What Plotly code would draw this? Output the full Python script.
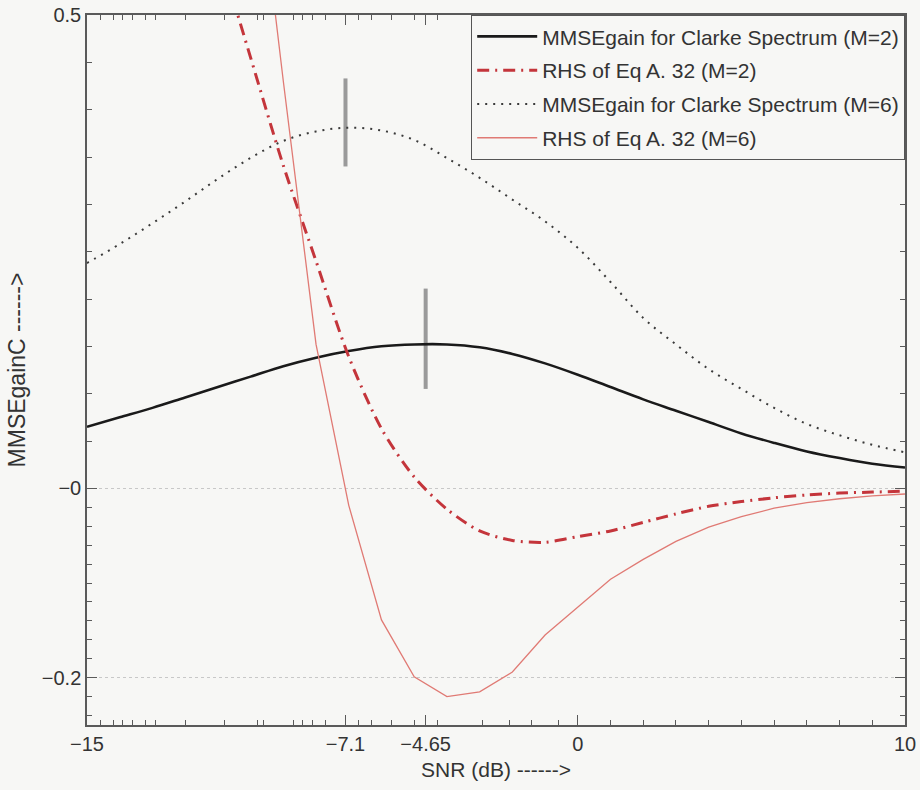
import plotly.graph_objects as go

# SNR grid (dB) for the smooth MMSE gain curves
snr = [-15, -14, -13, -12, -11, -10, -9, -8, -7, -6, -5, -4, -3, -2, -1,
       0, 1, 2, 3, 4, 5, 6, 7, 8, 9, 10]

# MMSEgain for Clarke spectrum, M=2
gain_m2 = [0.065, 0.075, 0.085, 0.096, 0.107, 0.118, 0.129, 0.138, 0.145, 0.150,
           0.152, 0.152, 0.149, 0.142, 0.132, 0.120, 0.107, 0.094, 0.082, 0.070,
           0.058, 0.048, 0.039, 0.032, 0.026, 0.022]

# MMSEgain for Clarke spectrum, M=6
gain_m6 = [0.238, 0.258, 0.280, 0.303, 0.327, 0.349, 0.367, 0.377, 0.381, 0.378,
           0.368, 0.349, 0.328, 0.305, 0.282, 0.254, 0.218, 0.180, 0.152, 0.126,
           0.105, 0.085, 0.068, 0.056, 0.046, 0.038]

# RHS of Eq A.32 (sampled every 1 dB)
snr_rhs = [-11, -10, -9, -8, -7, -6, -5, -4, -3, -2, -1,
           0, 1, 2, 3, 4, 5, 6, 7, 8, 9, 10]
rhs_m2 = [0.570, 0.455, 0.341, 0.240, 0.139, 0.063, 0.012, -0.022, -0.045, -0.055, -0.057,
          -0.051, -0.045, -0.036, -0.027, -0.019, -0.014, -0.010, -0.007, -0.005, -0.004, -0.003]
rhs_m6 = [1.00, 0.720, 0.430, 0.152, -0.018, -0.139, -0.199, -0.220, -0.215, -0.194, -0.155,
          -0.125, -0.096, -0.075, -0.056, -0.041, -0.030, -0.021, -0.015, -0.011, -0.008, -0.006]

# SNR markers at the gain peaks
peak_snr = [-7.1, -4.65]
peak_lo = [0.340, 0.105]
peak_hi = [0.433, 0.211]

# axis ticks
x_ticks = [-15, -7.1, -4.65, 0, 10]
x_ticklabels = ["\u221215", "\u22127.1", "\u22124.65", "0", "10"]
y_ticks = [-0.2, 0, 0.5]
y_ticklabels = ["\u22120.2", "\u22120", "0.5"]
x_minor = [-14.6, -14.2, -13.9, -13.6, -13.2, -12.9, -12, -10.8, -9.8, -9.6, -8.7,
           -8.4, -8.1, -7.7, -6.7, -6.3, -5.7, -5, -4.3, -2.9, -2.1, -1.4, -0.6,
           1, 2, 3, 4, 5, 6, 7, 8, 9]
y_minor = [0.05, 0.1, 0.15, 0.2, 0.25, 0.3, 0.35, 0.4, 0.45,
           -0.02, -0.04, -0.06, -0.08, -0.1, -0.12, -0.14, -0.16, -0.18, -0.22, -0.24]

X_RANGE = [-15, 10]
Y_RANGE = [-0.25, 0.5]

BG = "#f7f7f5"
FONT = "Liberation Sans, Arial, sans-serif"
AXIS = "#5a5a5a"

fig = go.Figure()

# gray peak markers
for xs, lo, hi in zip(peak_snr, peak_lo, peak_hi):
    fig.add_trace(go.Scatter(x=[xs, xs], y=[lo, hi], mode="lines",
                             line=dict(color="#9a9a9a", width=4),
                             showlegend=False, hoverinfo="skip"))

fig.add_trace(go.Scatter(x=snr, y=gain_m2, mode="lines", name="MMSEgain for Clarke Spectrum (M=2)",
                         line=dict(color="#1a1a1a", width=2.6, shape="spline"), legendgroup="a"))
fig.add_trace(go.Scatter(x=snr_rhs, y=rhs_m2, mode="lines", name="RHS of Eq A. 32 (M=2)",
                         line=dict(color="#c4353b", width=3, dash="12px,6px,2px,6px",
                                   shape="spline", smoothing=0.8),
                         legendgroup="b"))
fig.add_trace(go.Scatter(x=snr, y=gain_m6, mode="lines", name="MMSEgain for Clarke Spectrum (M=6)",
                         line=dict(color="#3a3a3a", width=2, dash="2px,6px", shape="spline"),
                         legendgroup="c"))
fig.add_trace(go.Scatter(x=snr_rhs, y=rhs_m6, mode="lines", name="RHS of Eq A. 32 (M=6)",
                         line=dict(color="#e07a74", width=1.3), legendgroup="d"))

# empty trace carrying the mirrored top/right tick axes
fig.add_trace(go.Scatter(x=[], y=[], xaxis="x2", yaxis="y2", showlegend=False,
                         hoverinfo="skip"))

fig.update_layout(
    width=920, height=790,
    margin=dict(l=87, r=15, t=15, b=65),
    paper_bgcolor=BG, plot_bgcolor=BG,
    font=dict(family=FONT, size=20, color="#333333"),
    showlegend=True,
    legend=dict(x=1, y=1, xanchor="right", yanchor="top",
                bgcolor=BG, bordercolor="#555555", borderwidth=1.2,
                font=dict(size=21, color="#333333"), itemwidth=60,
                tracegroupgap=3.5, traceorder="grouped"),
)

common_ticks = dict(ticks="inside", ticklen=10, tickwidth=1.2, tickcolor=AXIS,
                    showline=True, linecolor=AXIS, linewidth=1.5,
                    zeroline=False, automargin=False)

fig.update_layout(
    xaxis=dict(
        range=X_RANGE, tickmode="array", tickvals=x_ticks, ticktext=x_ticklabels,
        showgrid=False, tickfont=dict(size=20),
        minor=dict(tickmode="array", tickvals=x_minor, ticks="inside", ticklen=5,
                   tickcolor=AXIS, showgrid=False),
        title=dict(text="SNR (dB) ------>", font=dict(size=21), standoff=9),
        **common_ticks),
    yaxis=dict(
        range=Y_RANGE, tickmode="array", tickvals=y_ticks, ticktext=y_ticklabels,
        showgrid=True, gridcolor="#c8c8c8", griddash="dot", gridwidth=1,
        tickfont=dict(size=20),
        minor=dict(tickmode="array", tickvals=y_minor, ticks="inside", ticklen=5,
                   tickcolor=AXIS, showgrid=False),
        title=dict(text="MMSEgainC ------>", font=dict(size=23), standoff=10),
        **common_ticks),
    xaxis2=dict(
        range=X_RANGE, overlaying="x", side="top", anchor="y2",
        tickmode="array", tickvals=x_ticks, showticklabels=False, showgrid=False,
        minor=dict(tickmode="array", tickvals=x_minor, ticks="inside", ticklen=5,
                   tickcolor=AXIS, showgrid=False),
        **common_ticks),
    yaxis2=dict(
        range=Y_RANGE, overlaying="y", side="right", anchor="x2",
        tickmode="array", tickvals=y_ticks, showticklabels=False, showgrid=False,
        minor=dict(tickmode="array", tickvals=y_minor, ticks="inside", ticklen=5,
                   tickcolor=AXIS, showgrid=False),
        **common_ticks),
)

fig.write_html("out.html")
